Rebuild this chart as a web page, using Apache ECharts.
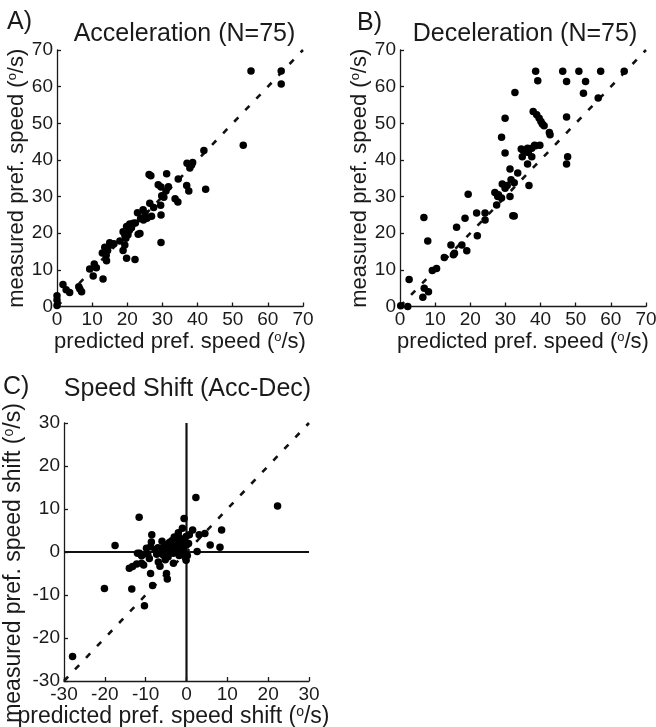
<!DOCTYPE html>
<html>
<head>
<meta charset="utf-8">
<title>Preferred speed: predicted vs measured</title>
<script src="https://cdn.jsdelivr.net/npm/echarts@6/dist/echarts.min.js"></script>
<style>
  html, body { margin: 0; padding: 0; background: #fff; }
  #chart { width: 656px; height: 727px; }
</style>
</head>
<body>
<div id="chart"></div>
<script>
// [predicted, measured] in deg/s
const accelerationPoints = [
  [55.2, 64.3], [63.8, 64.3], [63.8, 60.7], [53, 44], [41.8, 42.6], [42.3, 32],
  [37, 39.1], [38.6, 39.3], [37.8, 37.8], [38.3, 38.6], [34.5, 34.8], [31.2, 36.2],
  [26.2, 36], [26.7, 35.7], [28.8, 33.2], [29.6, 32.6], [31.7, 32.7], [36.9, 33],
  [37.5, 31.5], [33.6, 29.4], [34.4, 28.5], [29.8, 30.2], [30.4, 29.8], [29.5, 27.6],
  [26.4, 28.2], [29.6, 25], [29.6, 17.5], [22.9, 25.6], [24.5, 26.4], [25, 25.5],
  [25.6, 24.1], [26.9, 24.6], [24.6, 23.6], [23.8, 24], [19.8, 21.8], [20.7, 22.5],
  [21.7, 22.7], [22.3, 22.8], [18.8, 20.4], [19.3, 19.5], [20.2, 19.6], [19.6, 18.6],
  [23.1, 19.7], [23.6, 19.9], [17.9, 17.9], [18.8, 15.3], [19.3, 16.8], [19.8, 13.2],
  [22.2, 12.8], [13.6, 16.2], [15, 17.4], [15.5, 16.8], [14.4, 15.3], [14, 14],
  [14.1, 12.5], [13.1, 7.5], [9.3, 10.2], [10.6, 11.6], [11.2, 10.6], [10.3, 8.3],
  [6.2, 5.4], [7, 4], [6.5, 4.8], [1.7, 6], [2.6, 4.6], [3.6, 3.8],
  [0, 2.9], [0, 1.8], [0, 0.3], [20.6, 20.8], [21.2, 21.5], [16.2, 17.1],
  [12.9, 14.6], [27.5, 27], [31, 31.5]
];

const decelerationPoints = [
  [38.6, 64.2], [46.3, 64.2], [50.9, 64.2], [57.1, 64.2], [63.8, 64.2], [39.2, 61.6],
  [47.4, 61.4], [52.8, 61.4], [32.7, 58.4], [52.2, 58.2], [56.4, 56.9], [29.9, 51.4],
  [47.4, 51.7], [37.9, 53.2], [38.9, 52.3], [39.6, 51.4], [40.1, 50.5], [41, 49.3],
  [42.5, 47.5], [42.7, 46.9], [28.9, 46.2], [29.9, 41.9], [35.1, 42.6], [36.3, 43.2],
  [37.5, 43.2], [38.6, 43.9], [39.8, 44], [34.8, 40.9], [37.5, 40.9], [36.3, 38.9],
  [47.7, 40.9], [47.4, 38.9], [31.3, 37.5], [33.5, 36.4], [36.7, 33], [31.6, 34.6],
  [32.5, 33.8], [29.1, 33.4], [29.9, 32.3], [27, 31.1], [28, 30.5], [28.9, 29.6],
  [31.3, 30], [27.5, 27.7], [32.1, 24.8], [32.5, 24.7], [19.4, 30.6], [21.8, 25.5],
  [24.2, 25.5], [24.2, 23.6], [22, 19.3], [18.5, 24.1], [16.1, 21.6], [6.8, 24.3],
  [7.9, 17.9], [14.5, 16.8], [15.2, 14.1], [15.5, 14.5], [17.6, 16.8], [19, 15.2],
  [12.6, 13.4], [9.2, 9.8], [10.4, 10.4], [2.6, 7.4], [6.9, 5], [8.1, 4],
  [6.5, 2.5], [0.2, 0.2], [2.2, 0], [36.5, 42], [30.5, 33], [38.3, 44],
  [34.5, 43], [27.8, 30], [40.5, 49.8]
];

const shiftPoints = [
  [2.3, 12.7], [22.3, 10.7], [-11.6, 8.1], [-0.6, 7.8], [8.6, 5.1], [1.5, 5.1],
  [-17.5, 1.5], [5.8, 1.6], [8.2, 1.1], [2.6, 0.1], [-8.5, 4], [4.5, 4.3],
  [3.1, 4], [-12, -0.3], [-11, -0.9], [-13.2, -3.4], [-12.2, -2.8], [-11, -2.6],
  [-9.1, -1.5], [-8.8, -5], [-8.3, -7.8], [-4.9, -5], [-4.7, -6.3], [-20.1, -8.5],
  [-13.4, -8.6], [-10.3, -12.5], [-27.9, -24.3], [-0.1, -1.9], [-6.9, -2.3], [-6.5, -3.3],
  [-3.2, -2.6], [-8.8, 1.2], [-7.7, 0.5], [-6.5, -0.2], [-5.3, 1.6], [-4.9, 0.5],
  [-3.6, 2.6], [-4, 1.2], [-2.8, 1.2], [-2, 4.5], [-1.6, 3.2], [-1.2, 2.2],
  [-0.1, 3.6], [0, 1.6], [-0.8, 0.5], [-2.4, 0.1], [-5.7, -0.7], [-7.3, -0.5],
  [-0.4, -0.5], [0.7, 4], [-9.8, 0.9], [-4.5, -1.1], [-3.2, -0.3], [-1.2, 1.2],
  [-2, 2], [-8.6, 2.3], [-6, 2.5], [-3, 3.5], [-0.5, 2.8], [-1.5, 0.2],
  [-14, -3.8], [-5.2, -1.8], [0.2, -0.8], [-9.5, -0.5], [-7, 1], [-3.8, -0.1],
  [-1, 5.5], [-2.5, 3.3], [-6.2, 0.8], [0.5, 2], [-11.5, -0.3], [-10.5, -3],
  [-4.2, 2.2], [-1.8, -0.8], [-0.3, -1.2]
];

const speedRange = [0, 70];
const shiftRange = [-30, 30];
const tickStep = 10;

const panelTitles = ['Acceleration (N=75)', 'Deceleration (N=75)', 'Speed Shift (Acc-Dec)'];
const panelLetters = ['A)', 'B)', 'C)'];

const FONT = '"Liberation Sans", Arial, sans-serif';
const INK = '#1a1a1a';

const chart = echarts.init(document.getElementById('chart'));

// axis name with the little raised "o" used for degrees
function unitName(text) {
  return '{t|' + text + ' (}{o|o}{t|/s)}';
}
function nameStyle(size, padding) {
  return {
    color: INK,
    fontFamily: FONT,
    fontSize: size,
    padding: padding || 0,
    rich: {
      t: { fontSize: size, fontFamily: FONT, color: INK },
      o: { fontSize: Math.round(size * 0.6), fontFamily: FONT, color: INK, verticalAlign: 'top' }
    }
  };
}

function makeAxis(gridIndex, range, name, nameGap, nameSize, namePadding) {
  return {
    gridIndex: gridIndex,
    type: 'value',
    min: range[0],
    max: range[1],
    interval: tickStep,
    axisLine: { show: true, onZero: false, lineStyle: { color: INK, width: 1.3 } },
    axisTick: { show: true, inside: true, length: 4, lineStyle: { color: INK, width: 1.3 } },
    axisLabel: { show: true, color: INK, fontFamily: FONT, fontSize: 19, margin: 4,
                 showMinLabel: true, showMaxLabel: true, hideOverlap: false },
    splitLine: { show: false },
    name: unitName(name),
    nameLocation: 'middle',
    nameGap: nameGap,
    nameTextStyle: nameStyle(nameSize, namePadding)
  };
}

function scatter(data, idx) {
  return {
    type: 'scatter',
    xAxisIndex: idx,
    yAxisIndex: idx,
    data: data,
    symbol: 'circle',
    symbolSize: 7.5,
    itemStyle: { color: '#000', opacity: 1 },
    z: 3,
    silent: true
  };
}

function refLine(data, idx, dashed) {
  return {
    type: 'line',
    xAxisIndex: idx,
    yAxisIndex: idx,
    data: data,
    showSymbol: false,
    symbol: 'none',
    silent: true,
    z: 2,
    lineStyle: dashed
      ? { color: '#111', width: 2.6, type: [6, 10] }
      : { color: '#111', width: 2.2 }
  };
}

const option = {
  animation: false,
  backgroundColor: '#fff',
  grid: [
    { left: 57, top: 50, width: 246, height: 256.5, outerBoundsMode: 'none' },
    { left: 400, top: 50, width: 246, height: 256.5, outerBoundsMode: 'none' },
    { left: 64, top: 423, width: 245, height: 258, outerBoundsMode: 'none' }
  ],
  xAxis: [
    makeAxis(0, speedRange, 'predicted pref. speed', 24, 22),
    makeAxis(1, speedRange, 'predicted pref. speed', 24, 22),
    makeAxis(2, shiftRange, 'predicted pref. speed shift', 15, 23, [0, 26, 0, 0])
  ],
  yAxis: [
    makeAxis(0, speedRange, 'measured pref. speed', 25, 22),
    makeAxis(1, speedRange, 'measured pref. speed', 17, 22),
    makeAxis(2, shiftRange, 'measured pref. speed shift', 39, 23, [0, 22, 0, 0])
  ],
  series: [
    refLine([[speedRange[0], speedRange[0]], [speedRange[1], speedRange[1]]], 0, true),
    scatter(accelerationPoints, 0),
    refLine([[speedRange[0], speedRange[0]], [speedRange[1], speedRange[1]]], 1, true),
    scatter(decelerationPoints, 1),
    refLine([[0, shiftRange[0]], [0, shiftRange[1]]], 2, false),
    refLine([[shiftRange[0], 0], [shiftRange[1], 0]], 2, false),
    refLine([[shiftRange[0], shiftRange[0]], [shiftRange[1], shiftRange[1]]], 2, true),
    scatter(shiftPoints, 2)
  ],
  graphic: [
    { type: 'text', x: 7, y: 22, style: { text: panelLetters[0], font: '25px ' + FONT, fill: INK, textAlign: 'left', textVerticalAlign: 'middle' } },
    { type: 'text', x: 357, y: 23, style: { text: panelLetters[1], font: '25px ' + FONT, fill: INK, textAlign: 'left', textVerticalAlign: 'middle' } },
    { type: 'text', x: 3, y: 387, style: { text: panelLetters[2], font: '25px ' + FONT, fill: INK, textAlign: 'left', textVerticalAlign: 'middle' } },
    { type: 'text', x: 184.5, y: 34, style: { text: panelTitles[0], font: '25px ' + FONT, fill: INK, textAlign: 'center', textVerticalAlign: 'middle' } },
    { type: 'text', x: 525, y: 34, style: { text: panelTitles[1], font: '25px ' + FONT, fill: INK, textAlign: 'center', textVerticalAlign: 'middle' } },
    { type: 'text', x: 187.5, y: 389, style: { text: panelTitles[2], font: '25px ' + FONT, fill: INK, textAlign: 'center', textVerticalAlign: 'middle' } }
  ]
};

chart.setOption(option);
</script>
</body>
</html>
